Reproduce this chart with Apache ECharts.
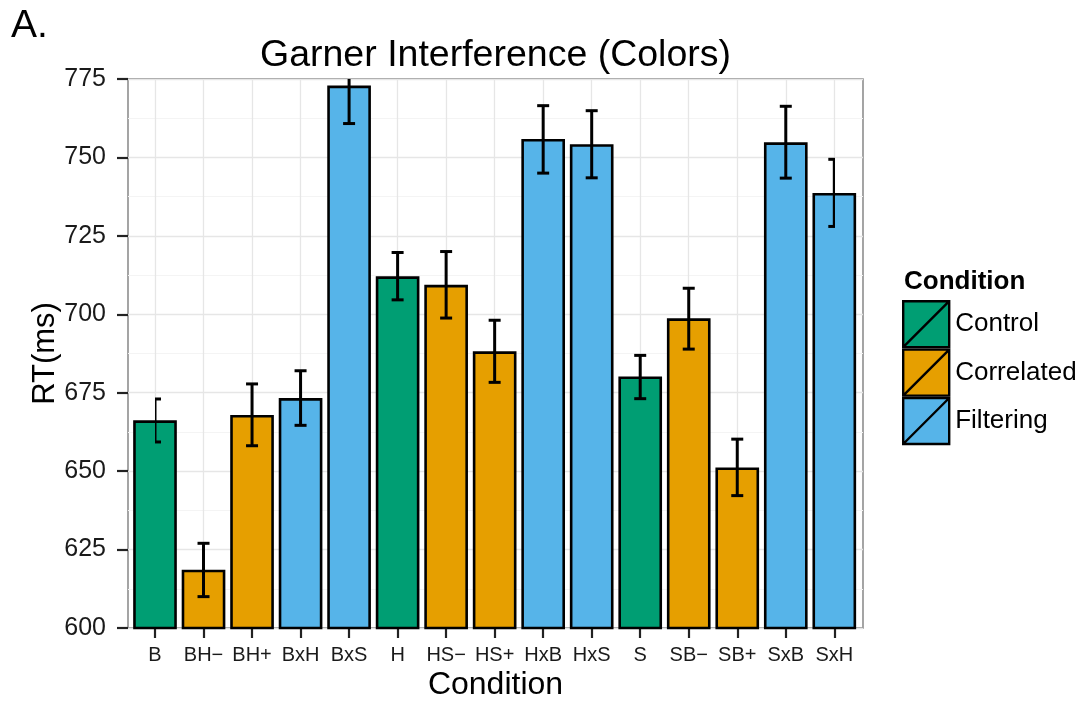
<!DOCTYPE html>
<html>
<head>
<meta charset="utf-8">
<script src="https://cdn.jsdelivr.net/npm/echarts@6/dist/echarts.min.js"></script>
<style>
  html, body { margin: 0; padding: 0; background: #fff; }
  #chart { width: 1085px; height: 702px; }
</style>
</head>
<body>
<div id="chart"></div>
<script>
// ---- data ----
const categories = ['B', 'BH\u2212', 'BH+', 'BxH', 'BxS', 'H', 'HS\u2212', 'HS+', 'HxB', 'HxS', 'S', 'SB\u2212', 'SB+', 'SxB', 'SxH'];
const conditionOf = ['Control', 'Correlated', 'Correlated', 'Filtering', 'Filtering', 'Control', 'Correlated', 'Correlated', 'Filtering', 'Filtering', 'Control', 'Correlated', 'Correlated', 'Filtering', 'Filtering'];
const meanRT = [666.2, 618.6, 667.9, 673.3, 772.9, 712.1, 709.4, 688.2, 755.9, 754.2, 680.2, 698.7, 651.2, 754.8, 738.7];
const errLow = [659.3, 610.0, 658.1, 664.6, 760.8, 704.6, 698.8, 678.3, 745.0, 743.5, 673.1, 688.9, 642.2, 743.4, 728.0];
const errHigh = [673.0, 627.0, 677.8, 682.0, 785.0, 719.7, 720.0, 698.1, 766.5, 764.9, 686.9, 708.3, 660.2, 766.3, 749.4];
const conditions = ['Control', 'Correlated', 'Filtering'];
const conditionColors = ['#009E73', '#E69F00', '#56B4E9'];
const yMin = 600, yMax = 775, yStep = 25;

const FONT = 'Liberation Sans, Arial, Helvetica, sans-serif';
const chart = echarts.init(document.getElementById('chart'), null, { renderer: 'canvas' });

// panel (grid 0) and inset data grid (grid 1, ggplot-like 0.6 unit expansion)
const panel = { left: 128, top: 79, width: 735, height: 549 };
const inner = { left: 155, top: 79, width: 679.3, height: 549 };

const barSeries = conditions.map((c, k) => ({
  name: c,
  type: 'bar',
  xAxisIndex: 1,
  yAxisIndex: 1,
  barWidth: '90%',
  barGap: '-100%',
  itemStyle: { color: conditionColors[k], borderColor: '#000', borderWidth: 2.6 },
  emphasis: { disabled: true },
  data: meanRT.map((v, i) => conditionOf[i] === c ? v : '-')
}));

const errSeries = {
  type: 'custom',
  xAxisIndex: 1,
  yAxisIndex: 1,
  clip: true,
  z: 10,
  data: categories.map((c, i) => [i, errLow[i], errHigh[i]]),
  renderItem: function (params, api) {
    const i = api.value(0);
    const lo = api.value(1);
    const hi = api.value(2);
    const pLo = api.coord([i, lo]);
    const topVal = Math.min(hi, yMax);
    const pHi = api.coord([i, topVal]);
    const hw = 6;
    const style = { stroke: '#000', lineWidth: 3, fill: null };
    const children = [
      { type: 'line', shape: { x1: pLo[0], y1: pLo[1], x2: pHi[0], y2: pHi[1] }, style: style },
      { type: 'line', shape: { x1: pLo[0] - hw, y1: pLo[1], x2: pLo[0] + hw, y2: pLo[1] }, style: style }
    ];
    if (hi <= yMax) {
      children.push({ type: 'line', shape: { x1: pHi[0] - hw, y1: pHi[1], x2: pHi[0] + hw, y2: pHi[1] }, style: style });
    }
    return { type: 'group', children: children };
  }
};

const option = {
  animation: false,
  backgroundColor: '#ffffff',
  textStyle: { fontFamily: FONT },
  grid: [
    Object.assign({ show: true, backgroundColor: '#ffffff', borderColor: '#7f7f7f', borderWidth: 1.4, containLabel: false, outerBoundsMode: 'none' }, panel),
    Object.assign({ show: false, containLabel: false, outerBoundsMode: 'none' }, inner)
  ],
  xAxis: [
    { gridIndex: 0, type: 'value', min: 0, max: 1, show: false },
    {
      gridIndex: 1, type: 'category', data: categories, boundaryGap: false,
      axisLine: { show: false },
      axisTick: { show: true, length: 10, lineStyle: { color: '#222', width: 2.2 } },
      axisLabel: { interval: 0, fontSize: 20, color: '#1a1a1a', margin: 17, fontFamily: FONT },
      splitLine: { show: true, lineStyle: { color: '#e6e6e6', width: 1.3 } }
    }
  ],
  yAxis: [
    {
      gridIndex: 0, type: 'value', min: yMin, max: yMax, interval: yStep,
      axisLine: { show: false },
      axisTick: { show: true, length: 11, lineStyle: { color: '#222', width: 2.2 } },
      axisLabel: { fontSize: 25, color: '#1a1a1a', margin: 22, fontFamily: FONT },
      splitLine: { show: true, lineStyle: { color: '#e6e6e6', width: 1.3 } },
      minorTick: { show: false, splitNumber: 2 },
      minorSplitLine: { show: true, lineStyle: { color: '#f4f4f4', width: 1 } }
    },
    { gridIndex: 1, type: 'value', min: yMin, max: yMax, interval: yStep, show: false, splitLine: { show: false } }
  ],
  legend: {
    orient: 'vertical',
    left: 902,
    top: 300,
    padding: 0,
    itemGap: 0,
    itemWidth: 46,
    itemHeight: 46,
    selectedMode: false,
    icon: 'path://M0,0L10,0L10,10L0,10ZM0,10L10,0',
    itemStyle: { borderColor: '#000', borderWidth: 2.4 },
    textStyle: { fontSize: 26, color: '#000', fontFamily: FONT, padding: [0, 0, 0, 1] },
    data: conditions
  },
  graphic: [
    { type: 'text', x: 11, y: 26, style: { text: 'A.', font: '39px ' + FONT, fill: '#000', textAlign: 'left', textVerticalAlign: 'middle' } },
    { type: 'text', x: 495.5, y: 56, style: { text: 'Garner Interference (Colors)', font: '37.5px ' + FONT, fill: '#000', textAlign: 'center', textVerticalAlign: 'middle' } },
    { type: 'text', x: 495.5, y: 685, style: { text: 'Condition', font: '32px ' + FONT, fill: '#000', textAlign: 'center', textVerticalAlign: 'middle' } },
    { type: 'text', x: 45, y: 353.5, rotation: Math.PI / 2, style: { text: 'RT(ms)', font: '31px ' + FONT, fill: '#000', textAlign: 'center', textVerticalAlign: 'middle' } },
    { type: 'text', x: 904, y: 282, style: { text: 'Condition', font: 'bold 26px ' + FONT, fill: '#000', textAlign: 'left', textVerticalAlign: 'middle' } }
  ],
  series: barSeries.concat([errSeries])
};
chart.setOption(option);
</script>
</body>
</html>
